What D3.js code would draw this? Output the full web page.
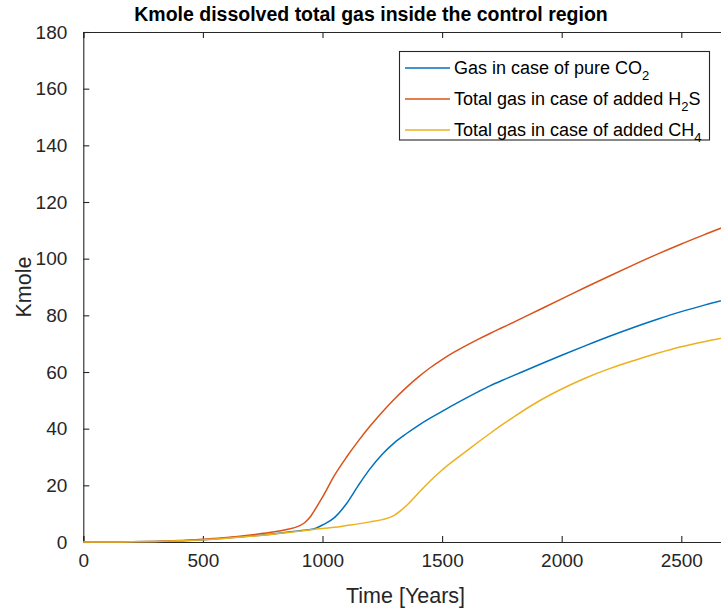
<!DOCTYPE html>
<html>
<head>
<meta charset="utf-8">
<script src="https://cdn.jsdelivr.net/npm/d3@7"></script>
<style>
  html, body { margin: 0; padding: 0; background: #fff; }
  svg { display: block; font-family: "Liberation Sans", Arial, Helvetica, sans-serif; }
</style>
</head>
<body>
<svg id="chart" width="721" height="611"></svg>
<script>
// Simulation time (years)
const years = [0, 100, 200, 300, 400, 500, 600, 700, 800, 850, 900, 925, 950, 975, 1000,
  1050, 1100, 1150, 1200, 1250, 1300, 1350, 1400, 1450, 1500, 1550, 1600, 1650, 1700, 1750,
  1800, 1900, 2000, 2100, 2200, 2300, 2400, 2500, 2600, 2700];

// Kmole of dissolved gas in the control region
const pureCO2 = [0, 0, 0.05, 0.2, 0.45, 0.8, 1.4, 2.1, 2.9, 3.4, 3.9, 4.15, 4.4, 5.0, 6.0,
  8.6, 13.5, 20.0, 26.0, 31.0, 35.0, 38.2, 41.1, 43.7, 46.1, 48.5, 50.8, 53.0, 55.1, 57.0,
  58.8, 62.4, 65.9, 69.3, 72.6, 75.7, 78.6, 81.3, 83.7, 85.9];
const addedH2S = [0, 0, 0.05, 0.2, 0.5, 1.0, 1.6, 2.5, 3.6, 4.4, 5.6, 6.8, 9.0, 12.3, 15.8,
  23.5, 29.9, 35.7, 41.0, 45.9, 50.4, 54.5, 58.2, 61.5, 64.4, 67.0, 69.3, 71.5, 73.6, 75.6,
  77.6, 81.7, 85.8, 89.9, 93.9, 97.8, 101.6, 105.2, 108.6, 111.9];
const addedCH4 = [0, 0, 0.05, 0.2, 0.45, 0.75, 1.3, 2.0, 2.8, 3.3, 3.8, 4.05, 4.3, 4.55, 4.8,
  5.2, 5.8, 6.4, 7.1, 7.9, 9.4, 12.8, 17.2, 21.5, 25.4, 28.8, 32.0, 35.2, 38.3, 41.3,
  44.2, 49.5, 54.0, 57.9, 61.2, 64.0, 66.6, 68.9, 70.8, 72.5];

const seriesNames = ["Gas in case of pure CO", "Total gas in case of added H", "Total gas in case of added CH"];
const seriesSubs = ["2", "2", "4"];
const seriesTails = ["", "S", ""];
const seriesColors = ["#0072BD", "#D95319", "#EDB120"];

const xTicks = [0, 500, 1000, 1500, 2000, 2500];
const yTicks = [0, 20, 40, 60, 80, 100, 120, 140, 160, 180];

const axisColor = "#262626";
const svg = d3.select("#chart");

const plotLeft = 83.3, plotTop = 32, plotBottom = 542;
const x = d3.scaleLinear().domain([0, 3000]).range([plotLeft, plotLeft + 3000 * 0.2392]);
const y = d3.scaleLinear().domain([0, 180]).range([plotBottom, plotTop]);

// Axes: box frame with inward-pointing ticks
const xAxisBottom = d3.axisBottom(x).tickValues(xTicks).tickSize(-6).tickPadding(12).tickFormat(d3.format("d"));
const xAxisTop = d3.axisTop(x).tickValues(xTicks).tickSize(-6).tickFormat("");
const yAxisLeft = d3.axisLeft(y).tickValues(yTicks).tickSize(-6).tickPadding(16).tickFormat(d3.format("d"));

function styleAxis(g) {
  g.select(".domain").attr("stroke", axisColor).attr("stroke-width", 1.1);
  g.selectAll(".tick line").attr("stroke", axisColor).attr("stroke-width", 1.1);
  g.selectAll(".tick text").attr("fill", axisColor).style("font-size", "19px")
    .style("font-family", "'Liberation Sans', Arial, sans-serif");
}

svg.append("g").attr("transform", `translate(0,${plotBottom})`).call(xAxisBottom).call(styleAxis);
svg.append("g").attr("transform", `translate(0,${plotTop})`).call(xAxisTop).call(styleAxis);
svg.append("g").attr("transform", `translate(${plotLeft},0)`).call(yAxisLeft).call(styleAxis);

// Lines
const allSeries = [pureCO2, addedH2S, addedCH4];
const line = d3.line()
  .x((d, i) => x(years[i]))
  .y(d => y(d))
  .curve(d3.curveMonotoneX);

allSeries.forEach((vals, k) => {
  svg.append("path")
    .datum(vals)
    .attr("fill", "none")
    .attr("stroke", seriesColors[k])
    .attr("stroke-width", 1.5)
    .attr("stroke-linejoin", "round")
    .attr("d", line);
});

// Title and axis labels
svg.append("text")
  .attr("x", 371).attr("y", 21)
  .attr("text-anchor", "middle")
  .attr("fill", "#000")
  .style("font-size", "19.5px").style("font-weight", "bold")
  .text("Kmole dissolved total gas inside the control region");

svg.append("text")
  .attr("x", 405.5).attr("y", 603)
  .attr("text-anchor", "middle")
  .attr("fill", axisColor)
  .style("font-size", "21.5px")
  .text("Time [Years]");

svg.append("text")
  .attr("transform", "translate(31,287) rotate(-90)")
  .attr("text-anchor", "middle")
  .attr("fill", axisColor)
  .style("font-size", "21.5px")
  .text("Kmole");

// Legend
const legend = svg.append("g");
legend.append("rect")
  .attr("x", 399.5).attr("y", 51.5)
  .attr("width", 310).attr("height", 88.5)
  .attr("fill", "#fff").attr("stroke", axisColor).attr("stroke-width", 1.1);

const rowY = [68, 99, 130];
seriesNames.forEach((name, k) => {
  legend.append("line")
    .attr("x1", 405).attr("x2", 450)
    .attr("y1", rowY[k]).attr("y2", rowY[k])
    .attr("stroke", seriesColors[k]).attr("stroke-width", 1.5);
  const t = legend.append("text")
    .attr("x", 454).attr("y", rowY[k] + 6)
    .attr("fill", "#000")
    .style("font-size", "18px");
  t.append("tspan").text(name);
  t.append("tspan").attr("dy", 6).style("font-size", "13px").text(seriesSubs[k]);
  if (seriesTails[k]) t.append("tspan").attr("dy", -6).text(seriesTails[k]);
});
</script>
</body>
</html>
